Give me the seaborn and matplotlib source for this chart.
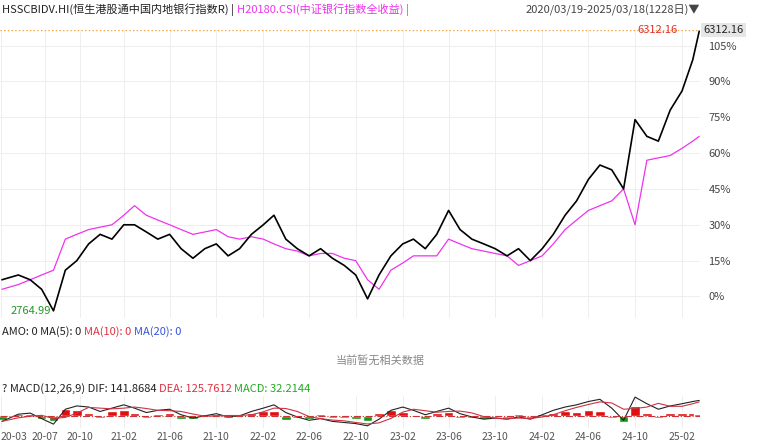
import matplotlib
matplotlib.use("Agg")
import matplotlib.pyplot as plt
import seaborn as sns
import pandas as pd
import numpy as np

sns.set_theme(style="white")
plt.rcParams['font.family'] = ['Noto Sans CJK SC', 'DejaVu Sans']

months = pd.date_range("2020-03-19", "2025-03-18", freq="MS").tolist()
dates = [pd.Timestamp("2020-03-19")] + months[1:] + [pd.Timestamp("2025-03-18")]
hsscb = [7, 9, 7, 3, -6, 11, 15, 22, 26, 24, 30, 30, 27, 24, 26, 20, 16, 20, 22, 17, 20, 26,
         30, 34, 24, 20, 17, 20, 16, 13, 9, -1, 9, 17, 22, 24, 20, 26, 36, 28, 24, 22, 20, 17,
         20, 15, 20, 26, 34, 40, 49, 55, 53, 45, 74, 67, 65, 78, 86, 99, 111]
h20180 = [3, 5, 7, 9, 11, 24, 26, 28, 29, 30, 34, 38, 34, 32, 30, 28, 26, 27, 28, 25, 24, 25,
          24, 22, 20, 19, 17, 18, 18, 16, 15, 7, 3, 11, 14, 17, 17, 17, 24, 22, 20, 19, 18, 17,
          13, 15, 17, 22, 28, 32, 36, 38, 40, 45, 30, 57, 58, 59, 62, 65, 67]
macd_hist = [-8, 4, 3, -6, -10, 12, 10, 6, -4, 8, 10, 5, -3, 4, 6, -5, -6, 3, 4, -4, 2, 6,
             8, 9, -7, -4, -5, 3, -3, -4, -6, -9, 6, 10, 7, -2, -5, 5, 7, -4, -3, -5, -2, -3,
             3, -4, 4, 6, 8, 7, 10, 9, -4, -12, 18, 6, -3, 5, 5, 6, 4]
macd_dif = [-10, 3, 5, -5, -15, 12, 18, 16, 8, 14, 20, 14, 6, 10, 12, 2, -4, 0, 4, -2, 0, 8,
            14, 20, 6, -2, -8, -5, -10, -12, -14, -18, -6, 10, 16, 10, 2, 8, 14, 4, -2, -6, -4, -6,
            -2, -6, 2, 10, 16, 20, 26, 30, 14, -8, 34, 22, 12, 18, 22, 26, 28]
date_ticks = ["20-03", "20-07", "20-10", "21-02", "21-06", "21-10", "22-02", "22-06", "22-10",
              "23-02", "23-06", "23-10", "24-02", "24-06", "24-10", "25-02"]
pct_ticks = [0, 15, 30, 45, 60, 75, 90, 105]

df = pd.DataFrame({"date": dates, "HSSCBIDV": hsscb, "H20180": h20180,
                   "hist": macd_hist, "dif": macd_dif})
df["dea"] = df["dif"].rolling(3, min_periods=1).mean()

W, H = 759, 444
fig = plt.figure(figsize=(W/100, H/100), dpi=100)
x0, x1 = pd.Timestamp("2020-03-14"), pd.Timestamp("2025-03-20")
tick_dates = [pd.Timestamp("20" + t[:2] + "-" + t[3:] + "-01") for t in date_ticks]
tick_dates[0] = pd.Timestamp("2020-03-16")
tick_dates[1] = pd.Timestamp("2020-07-10")
tick_dates[2] = pd.Timestamp("2020-10-10")

ax = fig.add_axes([0, 1-318/H, 700/W, 288/H])
sns.lineplot(data=df, x="date", y="H20180", ax=ax, color="#ee33ee", lw=0.9)
sns.lineplot(data=df, x="date", y="HSSCBIDV", ax=ax, color="black", lw=1.2)
ax.set_xlim(x0, x1)
ax.set_ylim(-9, 111.5)
ax.set_xticks(tick_dates)
ax.set_xticklabels([])
ax.yaxis.tick_right()
ax.set_yticks(pct_ticks)
ax.set_yticklabels([f"{v}%" for v in pct_ticks], fontsize=8, color="#444")
ax.tick_params(length=0, pad=6)
ax.grid(True, color="#eeeeee", lw=0.7)
ax.axhline(111.3, color="#f5a040", ls=":", lw=1)
ax.text(pd.Timestamp("2025-01-20"), 111.3, "6312.16", color="#e03030", fontsize=8, ha="right", va="center")
ax.text(1.005, 1.0, "6312.16", transform=ax.transAxes, fontsize=8, va="center",
        bbox=dict(fc="#e6e6e6", ec="none", pad=1.5))
ax.text(pd.Timestamp("2020-04-10"), -6, "2764.99", color="#229922", fontsize=8, va="center")
ax.set_xlabel(""); ax.set_ylabel("")
for s in ax.spines.values():
    s.set_visible(False)

fig.canvas.draw()
rend = fig.canvas.get_renderer()

def chain(x, y, parts, size=8.5):
    for txt, col in parts:
        t = fig.text(x/W, 1-y/H, txt, fontsize=size, va="center", color=col)
        x += t.get_window_extent(rend).width

chain(2, 10, [("HSSCBIDV.HI(恒生港股通中国内地银行指数R) | ", "#222"),
              ("H20180.CSI(中证银行指数全收益) |", "#ee33ee")], 8)
fig.text(700/W, 1-10/H, "2020/03/19-2025/03/18(1228日)▼", fontsize=8, va="center", ha="right", color="#444")
chain(2, 332, [("AMO: 0 MA(5): 0 ", "#222"), ("MA(10): 0 ", "#e03040"), ("MA(20): 0", "#3355dd")], 8)
fig.text(380/W, 1-361/H, "当前暂无相关数据", fontsize=8, va="center", ha="center", color="#888")
chain(2, 389, [("? MACD(12,26,9) DIF: 141.8684 ", "#222"), ("DEA: 125.7612 ", "#e03040"),
               ("MACD: 32.2144", "#22aa22")], 8)

ax2 = fig.add_axes([0, 1-428/H, 700/W, 32/H])
colors = ["#e01010" if v >= 0 else "#119911" for v in macd_hist]
ax2.bar(df["date"], df["hist"], width=25, color=colors)
sns.lineplot(data=df, x="date", y="dif", ax=ax2, color="#222", lw=0.8)
sns.lineplot(data=df, x="date", y="dea", ax=ax2, color="#cc3344", lw=0.8)
ax2.axhline(0, color="#cc3333", ls="-.", lw=0.8)
ax2.set_xlim(x0, x1)
ax2.set_ylim(-22, 36)
ax2.set_xticks(tick_dates)
ax2.set_xticklabels(date_ticks, fontsize=7.5, color="#555")
ax2.get_xticklabels()[0].set_ha("left")
ax2.set_yticks([])
ax2.tick_params(length=0, pad=3)
ax2.grid(True, axis="x", color="#eeeeee", lw=0.7)
ax2.set_xlabel(""); ax2.set_ylabel("")
for s in ax2.spines.values():
    s.set_visible(False)

fig.savefig("out.png", dpi=100)
